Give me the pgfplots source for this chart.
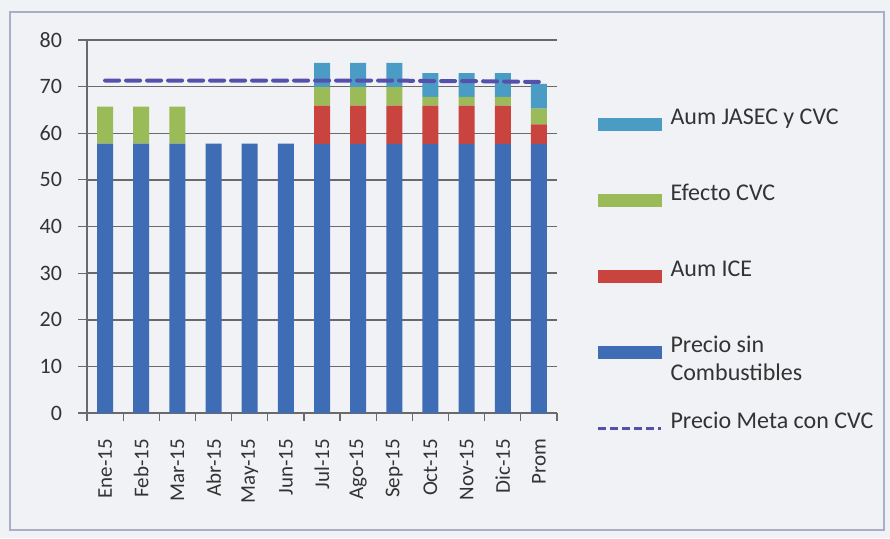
\documentclass[border=0pt]{standalone}
\usepackage{pgfplots}
\usepackage{pgfplotstable}
\pgfplotsset{compat=1.18}
\usepackage{fontspec}
\setmainfont{Carlito}

\definecolor{bgc}{HTML}{F1F2F5}
\definecolor{framec}{HTML}{A9AFC4}
\definecolor{precio}{HTML}{3F6DB5}
\definecolor{ice}{HTML}{C9443E}
\definecolor{cvc}{HTML}{9BBB59}
\definecolor{jasec}{HTML}{4A9CC4}
\definecolor{meta}{HTML}{5550AC}
\definecolor{gridc}{HTML}{6A6A6A}
\definecolor{txt}{HTML}{333333}

% months 0..11, Prom = 12
\pgfplotstableread{
x  precio ice cvc jasec meta
0  57.8   0.0 7.9 0.0   71.3
1  57.8   0.0 7.9 0.0   71.3
2  57.8   0.0 7.9 0.0   71.3
3  57.8   0.0 0.0 0.0   71.3
4  57.8   0.0 0.0 0.0   71.3
5  57.8   0.0 0.0 0.0   71.3
6  57.7   8.2 4.0 5.2   71.3
7  57.7   8.2 4.0 5.2   71.3
8  57.7   8.2 4.0 5.2   71.3
9  57.7   8.2 1.9 5.1   71.2
10 57.7   8.2 1.9 5.1   71.2
11 57.7   8.2 1.9 5.1   71.1
12 57.7   4.2 3.4 5.3   71.0
}\datos

\begin{document}
\begin{tikzpicture}
\fill[bgc] (0pt,0pt) rectangle (445pt,269pt);
\draw[framec, line width=0.8pt] (5pt,4pt) rectangle (442pt,263pt);
\begin{axis}[
  at={(43.5pt,62.5pt)}, anchor=south west,
  scale only axis, width=235pt, height=186.5pt,
  ybar stacked, bar width=8pt,
  xmin=-0.5, xmax=12.5, ymin=0, ymax=80,
  ytick={0,10,...,80},
  xtick={0,...,12},
  xticklabels={Ene-15,Feb-15,Mar-15,Abr-15,May-15,Jun-15,Jul-15,Ago-15,Sep-15,Oct-15,Nov-15,Dic-15,Prom},
  minor xtick={-0.5,0.5,...,12.5},
  x tick label style={rotate=90, anchor=east, font=\fontsize{10.5}{12}\selectfont, text=txt},
  y tick label style={font=\fontsize{11}{12}\selectfont, text=txt},
  /pgf/number format/assume math mode=true,
  major x tick style={draw=none},
  minor tick length=4pt, major tick length=4.5pt,
  tick align=outside,
  tick style={gridc, line width=0.6pt},
  xtick pos=bottom, ytick pos=left,
  xticklabel shift=5pt, yticklabel shift=4.5pt,
  axis x line*=bottom, axis y line*=left,
  axis line style={gridc, line width=0.8pt, -},
  ymajorgrids, grid style={gridc, line width=0.75pt},
  axis background/.style={fill=bgc},
  legend style={at={(1.085,0.815)}, anchor=north west, draw=none, fill=none,
    inner sep=0pt, row sep=27.5pt, column sep=4pt,
    font=\fontsize{12}{13}\selectfont, text=txt,
    nodes={inner sep=0pt, text height=7.5pt, text depth=2pt, anchor=base west}},
  legend cell align=left,
]
\addlegendimage{legend image code/.code={\fill[jasec] (0pt,-2.8pt) rectangle (31.5pt,2.8pt);}}
\addlegendimage{legend image code/.code={\fill[cvc] (0pt,-2.8pt) rectangle (31.5pt,2.8pt);}}
\addlegendimage{legend image code/.code={\fill[ice] (0pt,-2.8pt) rectangle (31.5pt,2.8pt);}}
\addlegendimage{legend image code/.code={\fill[precio] (0pt,-2.8pt) rectangle (31.5pt,2.8pt);}}
\addlegendimage{legend image code/.code={\draw[meta, line width=1.1pt, dash pattern=on 4pt off 2pt] (0pt,0pt) -- (31.5pt,0pt);}}

\addplot[fill=precio, draw=none, forget plot] table[x=x, y=precio] {\datos};
\addplot[fill=ice, draw=none, forget plot] table[x=x, y=ice] {\datos};
\addplot[fill=cvc, draw=none, forget plot] table[x=x, y=cvc] {\datos};
\addplot[fill=jasec, draw=none, forget plot] table[x=x, y=jasec] {\datos};
\legend{Aum JASEC y CVC, Efecto CVC, Aum ICE, {\parbox[t]{100pt}{Precio sin\\[1pt]Combustibles}}, Precio Meta con CVC}
\end{axis}
\begin{axis}[
  at={(43.5pt,62.5pt)}, anchor=south west,
  scale only axis, width=235pt, height=186.5pt,
  xmin=-0.5, xmax=12.5, ymin=0, ymax=80,
  hide axis,
]
\addplot[meta, line width=2pt, dash pattern=on 7pt off 3.5pt, line cap=round] table[x=x, y=meta] {\datos};
\end{axis}
\end{tikzpicture}
\end{document}
